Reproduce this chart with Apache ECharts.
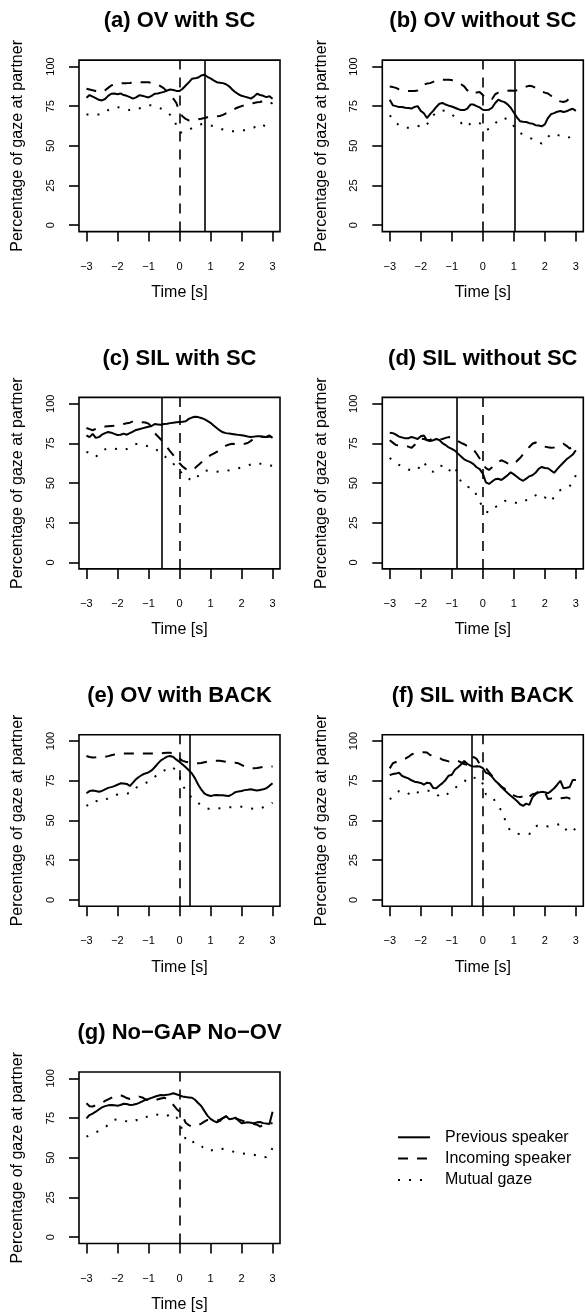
<!DOCTYPE html>
<html><head><meta charset="utf-8">
<script src="https://cdn.jsdelivr.net/npm/echarts@6/dist/echarts.min.js"></script>
<style>html,body{margin:0;padding:0;background:#fff}#c{width:585px;height:1316px}</style>
</head><body><div id="c"></div>
<script>
// sampling times (s), -3.0 .. 3.0 in 0.1 s steps
const time = Array.from({length: 61}, (_, i) => Math.round((-3 + i * 0.1) * 10) / 10);
const xTicks = [-3, -2, -1, 0, 1, 2, 3];
const yTicks = [0, 25, 50, 75, 100];
const seriesNames = ['Previous speaker', 'Incoming speaker', 'Mutual gaze'];
const panelTitles = ['(a) OV with SC', '(b) OV without SC', '(c) SIL with SC', '(d) SIL without SC',
  '(e) OV with BACK', '(f) SIL with BACK', '(g) No\u2212GAP No\u2212OV'];
// time of the solid vertical line per panel (null = none); dashed line is at 0
const switchTimes = [0.8, 1.04, -0.56, -0.84, 0.32, -0.35, null];
const onsetTime = 0;

const prevA = [80.3,82,81,80,79,78.6,79.5,81.5,82.8,83, 82.5,83,82,81.5,80.7,79.7,80.5,81.8,81.5,81,
  80.5,81.5,82.8,83,83.5,84,84.9,85.5,85.2,84.6, 84.5,86,88,90,92.2,92.5,93,94.3,94.8,93.5,
  92.5,91.2,90.1,89.8,89.5,88.8,87.5,85.5,83.8,82.5, 81.5,81,80.5,79.7,81,82.8,82,81.5,80.7,81.2, 79.7];
const incA = [86,85.5,85,84.5,84,83.9,85,86.5,88,88.8, 89.1,89.3,89.5,89.5,89.6,89.8,90,90.1,90.1,90.1,
  90,89.7,89.3,88.5,87.5,86.2,84,81.5,79.7,77, 71,68.5,67,66,66.3,66.5,66.8,67.1,67.5,68,
  68.4,68.6,68.6,68.8,69.5,70.5,71.3,72.5,73.5,74.3, 75,75.6,76.1,76.5,77,77.4,77.6,78.3,78.6,77.8, 76.5];
const mutA = [69.8,69.8,69.8,69.8,69.8,69.8,71,72.5,73.6,74, 74.4,74,73.5,73,72.5,72.3,72.8,73.5,74.3,75,
  75.5,75.5,75,74.4,73.5,72.3,71.3,69.5,67.1,63, 58.5,58.3,59,60,61.2,62.3,63,63.6,63.9,63.4,
  62.9,62.2,61.5,60.8,60.3,59.8,59.3,59.2,59.3,59.5, 59.7,59.8,60.2,60.8,61.5,63,63.9,63,62,61, 60.2];

const prevB = [79,75.5,75,74.4,74.5,74,73.8,73.5,74.5,75, 72,70.5,67.5,70,72,74.5,76.5,77,76,75.3,
  74.8,74,73.2,72.5,72.5,73.5,76,76,75,74.2, 72.7,72.5,72.8,74,77,79,78.2,77.5,76.1,74,
  71,68,65.5,65.2,65,64.3,64,63,62.8,62.3, 63.5,67.5,70,70.6,71.5,71.9,71.3,71.8,72.7,73.4, 72];
const incB = [87.4,87,86.5,85.5,85,84.9,84.6,84.5,84.5,84.9, 86.5,88.5,89.2,89.5,90.3,91.2,91.6,91.6,91.6,91.6,
  91.4,90.8,90,88.8,87.5,85,82.8,83.2,83.6,83.9, 82,79.9,79,79.5,82.5,83.5,83.9,84.3,84.7,84.9,
  84.7,85,85.5,86.5,87.3,87.8,87.5,86.5,85.2,84.2, 83.5,83,81.5,79.7,78.8,78,77.6,78.2,80,80.5, 79];
const mutB = [69.2,67,64.5,63,61.8,61.4,61.4,61.4,61.6,62.3, 62.9,61.8,63.5,66.3,69.2,70.8,72.2,72.3,72,71,
  69.8,68.2,66.8,64.5,62,62.5,64,64.5,65,64.3, 62.5,60,60.6,62,64.3,66,67.5,67.5,66.5,64.8,
  62.5,60.2,58.2,57,56,55.2,54.3,53.5,52.3,51.5, 53,55.5,57.7,57.3,56.8,56.4,55.8,55,55.5,56.2, 56.6];

const prevC = [80.1,79,81,78.5,79,80.5,81.5,82.2,81.8,81, 80.3,80.5,81.2,80.5,81.5,82.5,83.5,84,84.5,85,
  85.5,86,87.2,87,86.8,87.2,87.4,87.8,88.1,88.3, 88.5,88.7,89,90.5,91.3,91.8,91.6,91,90.3,89.2,
  88,86.3,84.7,83.2,82,81.5,81.3,81,80.7,80.4, 80.1,79.8,79.4,79.1,79.3,79.5,79.5,79.2,79.1,80, 78.5];
const incC = [84.7,84,83.3,84.2,85,85.4,85.6,85.8,86,86.2, 86.4,86.8,87.3,87.7,88.1,88.9,88.7,88.5,88.4,88.2,
  87.5,85.5,81.5,79.5,77.5,75,72.6,70,67.6,64.5, 62.5,60.5,59,57.8,58.2,59.5,61.2,63,64.8,66.3,
  67.6,68.6,69.7,70.7,72.2,73.6,74.3,74.8,74.6,74.3, 74.5,74.8,75.3,76.6,78,79.1,79.3,79.2,79,79.3, 79];
const mutC = [69.7,69,68,66.5,68.5,70.2,71.3,72,72.1,71.8, 71.4,71.1,70.8,71.5,73,74.1,74.6,74.9,74.4,73.7,
  73.2,72.9,71.8,70.5,68.6,67.2,65.8,64.3,62.3,60.2, 58.2,55.5,53.8,52.8,51.5,52,54.6,56.8,58,57.8,
  57.4,57.1,57.2,57.4,57.6,57.8,58.1,58.5,59,59.4, 60,60.5,61.1,61.8,62.6,62.8,62.3,61.8,61.4,61.1, 60.9];

const prevD = [81.8,81.5,80.5,79.3,78.8,78.2,78.3,79.1,78.5,77.8, 79.5,80,77,76.5,77,77.8,77.2,75.2,74,72.5,
  71.6,70.5,68.6,66.8,65,64,63.2,62,60,58.8, 56,50.5,49.5,51,52.5,52.8,52,53.5,55,56.8,
  55.5,54,52.5,51.5,52.8,54.3,55,56.5,59,60.2, 59.5,59.4,58,56.5,58.8,61,63,65,66.5,68, 70.7];
const incD = [77,75.5,74,73.7,73.6,73.5,73,72.2,74,76.5, 78,77.8,77.2,77.3,78,78,77.6,77.8,78.5,79,
  78.8,78,76.5,75.4,74.5,73.4,72.5,71.2,68.5,65.5, 62,59.5,58.3,60,61.8,63.3,64.4,63.6,62.5,61.4,
  62.5,63.9,65.8,68.2,70.5,72.8,74.8,75.6,74.6,73.6, 73,72.6,72.3,72.5,73.3,74,74.8,73.5,71.8,73, 74.9];
const mutD = [65.9,64,62.4,61.5,60.6,59.6,58.6,58,57.7,58.5, 61.5,63.5,60,57.8,57.2,59,61,60.8,59.5,57.3,
  60,60.5,55,50.8,48.5,47.6,47.4,46.5,42.3,38.5, 34.5,32,31.5,33.6,34.8,36,37.3,38.8,39.1,38.6,
  38,37.4,38.2,39.3,39.3,39.4,40.5,42.3,43.3,42.5, 41.1,39.8,38.4,41.5,44.3,45.6,46.5,47.2,48,51, 55];

const prevE = [67.1,68.5,68.8,68.5,68.1,68.6,69.6,70.5,71,71.6, 72.5,73.4,73.3,73,71.7,73.8,76,77.5,78.8,79.6,
  80.3,81.5,83.5,85.8,87.8,89,90.2,90.6,90,88.3, 86.8,85.2,83.5,81.6,79.6,76.5,72.6,69.5,67,66,
  65.4,65.8,66,65.9,65.8,65.6,65.4,66.5,67.8,68.3, 68.6,69.1,69.3,69.6,69.2,68.8,69.2,69.6,70.3,71.8, 73.4];
const incE = [90.6,90,89.7,89.8,90,90.1,90.1,90.5,91,91.5, 92,92.2,92.2,92.2,92.2,92.2,92.2,92.2,92.2,92.2,
  92.2,92.2,92.2,92.2,92.3,92.5,92.7,92.7,91.8,90.5, 89,87.5,87,86.6,86.3,86.1,86,86.2,86.6,87,
  87.3,87.5,87.6,87.6,87.3,87,86.7,86.5,86.4,86, 85,84,83.3,82.9,82.8,83,83.4,83.7,83.9,83.9, 83.9];
const mutE = [59.1,60.5,62.3,62.2,62,61.9,62.8,64,64.9,65.6, 66.3,66.8,66.9,67,67.1,69,70.6,71.8,72.8,73.5,
  74.5,75.5,77.4,79.2,80.5,81.4,82.3,83.8,83,81.5, 78,72.5,68.6,66.3,64.3,62.6,61.2,59.4,58.1,57.5,
  57,57.2,57.4,57.7,57.9,58.1,58.3,58.4,58.5,58.6, 58.7,58.4,58,57.6,57.3,57,57.6,58.3,59,60.1, 61.2];

const prevF = [78.6,79.2,79.5,80,78,77.2,76.5,75.3,74.4,74, 73.6,72.5,73.8,73.5,70.5,70.3,72,73.5,75.5,78.2,
  78.8,81.9,83.5,85.3,87.5,85.7,84.5,83.9,84.2,84, 83,80,79.3,77.5,75,73.2,71.1,69.1,67.3,65.6,
  64,62.3,60.2,59.2,60.6,59.8,64.5,66.5,67.6,68, 67.8,67.1,68.5,70.3,72.5,75,70.3,70.6,71,75.5, 75.5];
const incF = [82.8,86,86.8,87.5,88.3,88.9,90,91.5,92.3,92.5, 92.7,93,92.8,91.2,90.7,90.3,89.5,88.2,87.7,87.2,
  87.1,87.8,87.5,86.5,85.5,85,88,90,88.8,85.5, 83.5,82.9,80.5,78,75.5,73.3,71.3,70,68.5,67,
  65.8,65,64.7,65.2,63.5,65,66.5,67,68.2,69, 67.8,63.5,63.8,64.6,64.3,63.9,64.2,64.5,63.8,63.2, 62.9];
const mutF = [63.3,64.8,66.5,68.5,68.8,68.5,67,65.4,66.5,67.7, 68.3,68.8,68.8,68.7,68,67.1,64.8,65,65.8,67.3,
  69,70.5,71.8,73,74.3,76.5,77.5,77,76.5,76.5, 73,66.5,66,65,62,58.8,56.3,51.4,46.1,43.3,
  42.2,41.6,41.5,41.5,41.5,41.5,43,46.3,47,47.2, 46.8,46.2,46.4,47,47.3,47.8,47.5,43.5,42.3,43.5, 45.1];

const prevG = [74.8,76.9,77.8,79,80.4,81.7,82.5,83,83.2,83, 82.8,83.2,84,83.8,83.2,83.4,83.8,84.6,85.5,86.4,
  87,87.7,88.4,89,89.5,89.4,89.6,90,90.6,90, 89.3,88.6,88.2,88,87.8,86.5,84.5,82.6,79.5,76.5,
  74.5,73.2,72.3,73.2,75,76.3,74.3,74.5,75.3,73.5, 71.8,72,72.3,72,71.7,72.3,72.5,71.8,71.5,71.3, 79];
const incG = [84.3,82.5,82.3,83,83.5,84.5,85.8,86.8,87.7,88.5, 89.2,89.4,88.6,87.6,87,87.4,88,88.5,88,86.8,
  86.2,85.5,85.8,86.8,87.3,87.8,87.2,85.5,83.3,80.9, 79,76.5,72,70.5,69.6,70,70.5,71.5,72.7,73.8,
  73.6,73.4,73.2,74,75,75.9,75.6,75.3,74.8,74.2, 73.5,72.8,72.1,71.6,71.2,70.8,69.6,70.7,71.6,71.7, 71.7];
const mutG = [63.3,64.2,65,65.9,67,68,69,70.8,72.6,73.9, 74.2,74.2,73.5,72.9,72.3,73,73.7,73.5,74.4,75.5,
  76.2,77.1,77.3,77.1,76.8,76.5,76.2,77.8,76.8,75.5, 73,66.5,61.6,59.1,59.6,60.2,59,57.6,55.5,54.3,
  54.6,54.9,55.4,56,55.5,55,54.4,54,53.5,53, 52.7,52.5,52.2,52.1,51.9,51.4,50.7,50.3,50.5,51.8, 56.4];

const panelSeries = [
  [prevA, incA, mutA], [prevB, incB, mutB], [prevC, incC, mutC], [prevD, incD, mutD],
  [prevE, incE, mutE], [prevF, incF, mutF], [prevG, incG, mutG]
];

const FONT = '"Liberation Sans", Arial, Helvetica, sans-serif';
const colLeft = [79, 382.3];
const gridW = 201;
const gridH = 171.5;
const rowTop = r => 60.1 + 337.3 * r;
const lineTypes = ['solid', [10, 9], [2, 9]];
const minus = v => String(v).replace('-', '\u2212');

const grids = [], xAxes = [], yAxes = [], series = [], graphics = [];
panelSeries.forEach((sets, i) => {
  const col = i % 2, row = Math.floor(i / 2);
  const top = rowTop(row), left = colLeft[col];
  grids.push({left: left, top: top, width: gridW, height: gridH, show: true,
    borderColor: '#000', borderWidth: 1.6, backgroundColor: 'transparent'});
  xAxes.push({type: 'value', gridIndex: i, min: -3.24, max: 3.24, position: 'bottom',
    axisLine: {show: false, onZero: false}, splitLine: {show: false},
    axisTick: {show: true, customValues: xTicks, length: 10, lineStyle: {color: '#000', width: 1.6}},
    axisLabel: {customValues: xTicks, margin: 29, fontSize: 11, lineHeight: 12, color: '#000', fontFamily: FONT, formatter: minus},
    name: 'Time [s]', nameLocation: 'middle', nameGap: 53,
    nameTextStyle: {fontSize: 16, lineHeight: 16, color: '#000', fontFamily: FONT}});
  yAxes.push({type: 'value', gridIndex: i, min: -4, max: 104, position: 'left',
    axisLine: {show: false, onZero: false}, splitLine: {show: false},
    axisTick: {show: true, customValues: yTicks, length: 10, lineStyle: {color: '#000', width: 1.6}},
    axisLabel: {customValues: yTicks, margin: 22, rotate: 90, fontSize: 11, lineHeight: 12, color: '#000', fontFamily: FONT},
    name: 'Percentage of gaze at partner', nameLocation: 'middle', nameGap: 53,
    nameTextStyle: {fontSize: 16, lineHeight: 16, color: '#000', fontFamily: FONT}});
  sets.forEach((vals, s) => {
    const ser = {type: 'line', name: seriesNames[s], xAxisIndex: i, yAxisIndex: i,
      data: time.map((t, k) => [t, vals[k]]), symbol: 'none', showSymbol: false, animation: false, silent: true,
      lineStyle: {color: '#000', width: 2, type: lineTypes[s]}, itemStyle: {color: '#000'}};
    if (s === 0) {
      const ml = [{xAxis: onsetTime, lineStyle: {type: [10, 8], width: 1.6, color: '#000'}}];
      if (switchTimes[i] !== null) ml.push({xAxis: switchTimes[i], lineStyle: {type: 'solid', width: 1.6, color: '#000'}});
      ser.markLine = {symbol: ['none', 'none'], silent: true, animation: false, label: {show: false}, data: ml};
    }
    series.push(ser);
  });
  graphics.push({type: 'text', x: left + gridW / 2, y: 21.3 + 337.3 * row,
    style: {text: panelTitles[i], font: 'bold 22px ' + FONT, fill: '#000', textAlign: 'center', textVerticalAlign: 'middle'}});
});

const chart = echarts.init(document.getElementById('c'), null, {renderer: 'canvas'});
chart.setOption({
  backgroundColor: '#fff',
  animation: false,
  grid: grids, xAxis: xAxes, yAxis: yAxes, series: series,
  graphic: graphics,
  legend: {data: seriesNames, orient: 'vertical', left: 397, top: 1129.3, padding: 0,
    itemWidth: 32, itemHeight: 16, itemGap: 5.3, selectedMode: false,
    itemStyle: {opacity: 0},
    textStyle: {fontSize: 16, color: '#000', fontFamily: FONT, padding: [0, 0, 0, 10]}}
});
</script></body></html>
